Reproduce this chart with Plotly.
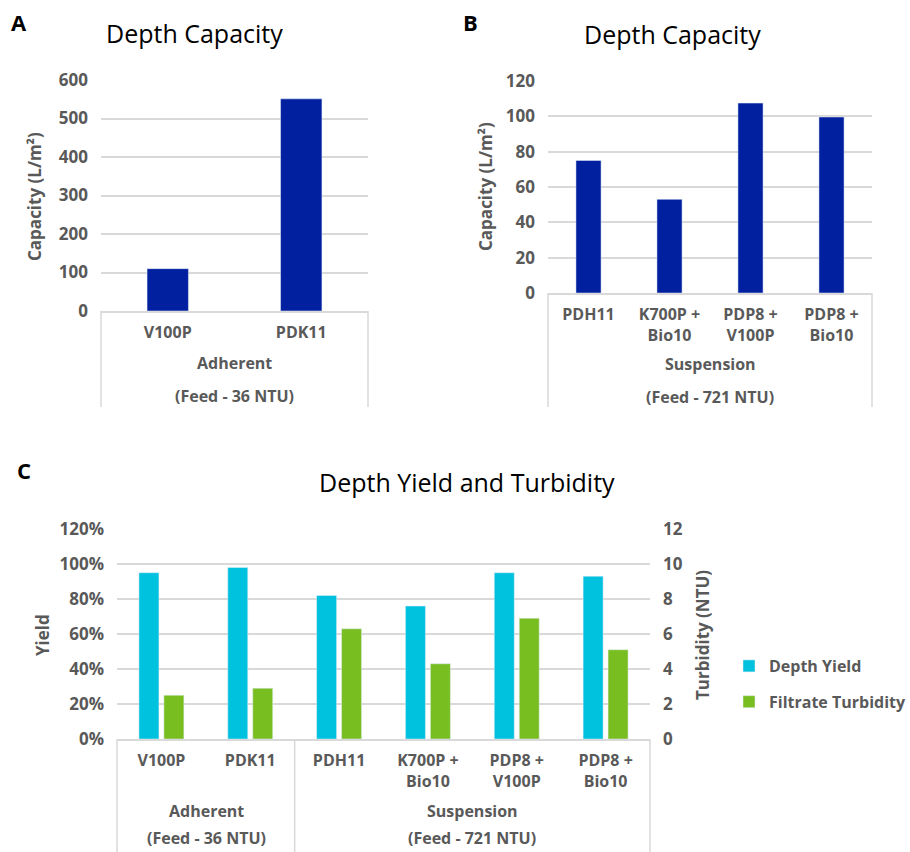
import plotly.graph_objects as go

# ---------------- data ----------------
a_categories = ["V100P", "PDK11"]
a_capacity = [110, 551]
a_group = ["Adherent", "(Feed - 36 NTU)"]

b_categories = ["PDH11", "K700P +<br>Bio10", "PDP8 +<br>V100P", "PDP8 +<br>Bio10"]
b_capacity = [75, 53, 107.5, 99.6]
b_group = ["Suspension", "(Feed - 721 NTU)"]

c_categories = ["V100P", "PDK11", "PDH11", "K700P +<br>Bio10", "PDP8 +<br>V100P", "PDP8 +<br>Bio10"]
c_yield = [0.95, 0.98, 0.82, 0.76, 0.95, 0.93]
c_turbidity = [2.5, 2.9, 6.3, 4.3, 6.9, 5.1]

a_ticks = [0, 100, 200, 300, 400, 500, 600]
b_ticks = [0, 20, 40, 60, 80, 100, 120]

# ---------------- style ----------------
W, H = 910, 852
NAVY = "#00209F"
CYAN = "#00C1DE"
GREEN = "#78BE21"
GRID = "#D9D9D9"
TXT = "#595959"
FONT = "Open Sans"


def px(x):
    return x / W


def py(y):
    return 1 - y / H


xtickfont = dict(family=FONT, size=16, color=TXT, weight="bold")
ytickfont = dict(family=FONT, size=17, color=TXT, weight="bold")

fig = go.Figure()

# Panel A
fig.add_trace(go.Bar(x=a_categories, y=a_capacity, marker_color=NAVY, width=0.31,
                     xaxis="x", yaxis="y", showlegend=False))
# Panel B
fig.add_trace(go.Bar(x=b_categories, y=b_capacity, marker_color=NAVY, width=0.31,
                     xaxis="x2", yaxis="y2", showlegend=False))
# Panel C
fig.add_trace(go.Bar(x=c_categories, y=c_yield, marker_color=CYAN, width=0.225, offset=-0.253,
                     xaxis="x3", yaxis="y3", name="Depth Yield", legendgroup="g1"))
fig.add_trace(go.Bar(x=c_categories, y=c_turbidity, marker_color=GREEN, width=0.225, offset=0.028,
                     xaxis="x3", yaxis="y4", name="Filtrate Turbidity", legendgroup="g2"))

xcommon = dict(type="category", showgrid=False, showline=True, linecolor=GRID, linewidth=1.5,
               ticks="", tickfont=xtickfont, ticklabelstandoff=6, fixedrange=True,
               automargin=False)
ycommon = dict(showgrid=True, gridcolor=GRID, gridwidth=1.5, zeroline=False, showline=False,
               ticks="", tickfont=ytickfont, ticklabelstandoff=12, fixedrange=True,
               automargin=False)

fig.update_layout(
    width=W, height=H, margin=dict(l=0, r=0, t=0, b=0, pad=0, autoexpand=False),
    paper_bgcolor="white", plot_bgcolor="white",
    barmode="overlay",
    font=dict(family=FONT, color=TXT),
    xaxis=dict(domain=[px(101), px(368)], anchor="y", **xcommon),
    yaxis=dict(domain=[py(311), py(80)], anchor="x", range=[0, 600], tickvals=a_ticks, **ycommon),
    xaxis2=dict(domain=[px(548), px(872)], anchor="y2", **xcommon),
    yaxis2=dict(domain=[py(293), py(81)], anchor="x2", range=[0, 120], tickvals=b_ticks, **ycommon),
    xaxis3=dict(domain=[px(117), px(650)], anchor="y3", **xcommon),
    yaxis3=dict(domain=[py(739), py(529)], anchor="x3", range=[0, 1.2], dtick=0.2,
                tickformat=".0%", **ycommon),
    yaxis4=dict(overlaying="y3", side="right", anchor="x3", range=[0, 12], dtick=2,
                showgrid=False, zeroline=False, showline=False, ticks="", tickfont=ytickfont,
                ticklabelstandoff=12, fixedrange=True, automargin=False),
    legend=dict(x=px(729), y=py(649), xanchor="left", yanchor="top",
                font=dict(family=FONT, size=16, color=TXT, weight="bold"),
                tracegroupgap=12, bgcolor="rgba(0,0,0,0)"),
)

ann = []


def text(x, y, s, size, color=TXT, bold=True, angle=0, family=FONT):
    ann.append(dict(x=px(x), y=py(y), xref="paper", yref="paper", text=s, showarrow=False,
                    xanchor="center", yanchor="middle", textangle=angle,
                    font=dict(family=family, size=size, color=color,
                              weight="bold" if bold else "normal")))


# panel letters
text(19, 22, "A", 22, color="black")
text(470, 22, "B", 22, color="black")
text(24, 470, "C", 22, color="black")
# titles
text(194, 33, "Depth Capacity", 25, color="black", bold=False)
text(672, 34, "Depth Capacity", 25, color="black", bold=False)
text(467, 482, "Depth Yield and Turbidity", 25, color="black", bold=False)
# axis titles
text(35, 197, "Capacity (L/m²)", 17, angle=-90)
text(485, 187, "Capacity (L/m²)", 17, angle=-90)
text(42, 635, "Yield", 17, angle=-90)
text(702, 635, "Turbidity (NTU)", 17, angle=-90)
# group labels
text(234.5, 363, a_group[0], 16)
text(234.5, 396, a_group[1], 16)
text(710, 364, b_group[0], 16)
text(710, 397, b_group[1], 16)
text(206, 811, a_group[0], 16)
text(206, 838, a_group[1], 16)
text(472, 811, b_group[0], 16)
text(472, 838, b_group[1], 16)
fig.update_layout(annotations=ann)

# category box lines
line = dict(color=GRID, width=1.5)
shapes = []
for xr, top in (("x domain", 311), ("x2 domain", 293), ("x3 domain", 739)):
    for xv in (0, 1):
        shapes.append(dict(type="line", xref=xr, yref="paper", x0=xv, x1=xv,
                           y0=py(top), y1=py(852 if xr == "x3 domain" else 407), line=line))
shapes.append(dict(type="line", xref="x3", yref="paper", x0=1.5, x1=1.5,
                   y0=py(739), y1=py(852), line=line))
fig.update_layout(shapes=shapes)

fig.write_html("out.html")
